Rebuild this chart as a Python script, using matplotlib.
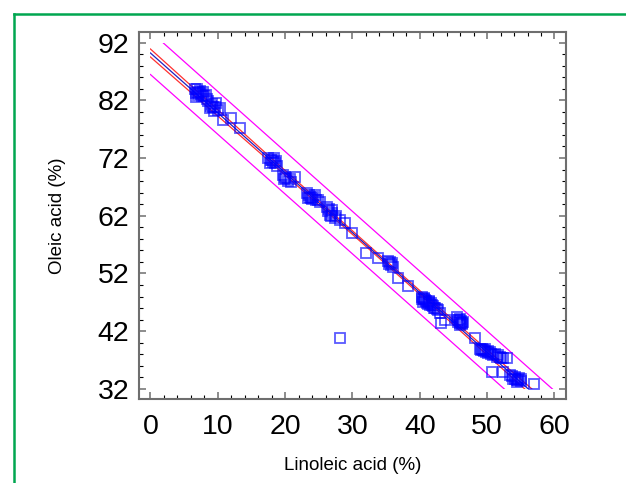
import numpy as np
import matplotlib
matplotlib.use('Agg')
import matplotlib.pyplot as plt
from matplotlib.lines import Line2D
from matplotlib.patches import Rectangle
from matplotlib.ticker import MultipleLocator

plt.rcParams['font.family'] = ['Liberation Sans', 'DejaVu Sans']

# Linoleic (x) / Oleic (y) percentages (clusters hold many overlapping squares)
linoleic = [6.6, 7.0, 7.8, 6.8, 7.6, 8.2, 7.2, 6.9, 7.3, 7.5, 8.0, 6.7, 8.4, 7.1,
            8.6, 9.1, 9.8, 8.8, 9.5, 10.3, 9.3, 9.0, 9.6, 10.0,
            10.8, 12.0, 13.3,
            17.5, 18.0, 18.5, 17.8, 18.3, 18.8, 17.9, 18.2, 18.6,
            19.7, 20.2, 20.95, 21.4, 20.5, 20.0, 20.7, 19.9,
            23.2, 23.7, 24.4, 24.9, 23.4, 24.0, 25.2, 23.5, 23.9, 24.6, 24.2,
            26.2, 26.9, 26.6, 27.4, 26.4, 26.5, 27.0, 26.8, 27.5,
            28.1, 28.9, 30.0,
            28.1,
            32.0, 33.8, 35.6, 35.8, 36.0, 35.3, 35.5, 35.9,
            36.8, 38.3,
            40.3, 40.5, 40.8, 41.3, 41.5, 42.0, 42.2, 42.7, 43.0, 40.6, 41.0, 41.8,
            40.4, 40.9, 41.2, 41.6, 42.1, 42.5, 41.4, 40.7,
            43.2, 43.7,
            45.5, 45.7, 46.2, 46.0, 46.4, 45.8, 46.1, 45.9, 46.3, 45.6, 46.0,
            48.2,
            48.9, 49.4, 49.9, 50.4, 50.9, 51.4, 51.9, 52.4, 52.9, 49.2, 50.1, 51.1,
            49.1, 49.6, 50.2, 50.6, 51.6, 52.1, 49.7,
            50.7, 52.4,
            53.4, 54.1, 54.6, 55.1, 54.4, 53.9, 54.8, 54.2, 54.5, 53.7, 55.0,
            56.9]
oleic = [84.0, 83.5, 83.5, 82.6, 82.8, 83.0, 83.2, 83.9, 83.6, 83.1, 82.7, 83.3, 82.2, 82.9,
         81.8, 81.3, 81.5, 80.6, 80.2, 80.6, 80.9, 81.0, 80.8, 80.3,
         78.6, 78.9, 77.2,
         72.0, 71.7, 71.1, 71.2, 72.0, 70.7, 71.6, 71.3, 71.5,
         69.1, 68.5, 67.9, 68.8, 68.0, 68.8, 68.3, 68.3,
         65.9, 65.3, 65.6, 64.7, 65.0, 64.9, 64.3, 65.6, 65.1, 64.8, 65.3,
         63.6, 63.0, 62.1, 61.6, 62.8, 63.2, 62.5, 62.0, 61.9,
         61.3, 60.7, 59.0,
         40.9,
         55.5, 54.6, 54.0, 53.5, 53.2, 54.1, 53.7, 53.9,
         51.2, 49.9,
         48.0, 47.1, 47.4, 47.1, 46.6, 46.3, 46.0, 45.7, 45.1, 47.8, 46.9, 46.5,
         47.6, 47.2, 46.8, 46.9, 46.1, 45.8, 47.3, 47.5,
         43.5, 43.9,
         44.5, 43.6, 43.4, 43.0, 43.6, 44.0, 43.8, 43.5, 43.2, 43.9, 44.2,
         40.8,
         39.0, 38.7, 38.4, 38.4, 37.9, 37.6, 37.6, 37.3, 37.3, 39.0, 38.6, 38.0,
         38.8, 38.6, 38.2, 38.1, 37.8, 37.4, 38.9,
         35.0, 35.0,
         34.4, 34.1, 33.5, 33.8, 33.2, 33.8, 33.9, 33.7, 33.6, 34.2, 33.4,
         32.9]

x = np.array(linoleic)
y = np.array(oleic)

# simple linear regression with 95% confidence and prediction limits
n = len(x)
slope, intercept = np.polyfit(x, y, 1)
resid = y - (intercept + slope * x)
s = np.sqrt(np.sum(resid ** 2) / (n - 2))
t = 1.98
xbar = x.mean()
sxx = np.sum((x - xbar) ** 2)
xs = np.linspace(0, 60, 300)
fit = intercept + slope * xs
conf = t * s * np.sqrt(1.0 / n + (xs - xbar) ** 2 / sxx)
pred = t * s * np.sqrt(1 + 1.0 / n + (xs - xbar) ** 2 / sxx)

fig = plt.figure(figsize=(6.26, 4.83), dpi=100)
ax = fig.add_axes([0.222, 0.174, 0.682, 0.760])

clip = Rectangle((0, 32), 60, 60, transform=ax.transData)
lines = []
lines += ax.plot(xs, fit + pred, color='#ff00ff', lw=0.9)
lines += ax.plot(xs, fit - pred, color='#ff00ff', lw=0.9)
lines += ax.plot(xs, fit + conf, color='#ff3030', lw=0.9)
lines += ax.plot(xs, fit - conf, color='#ff3030', lw=0.9)
lines += ax.plot(xs, fit, color='#2020c0', lw=0.9)
for ln in lines:
    ln.set_clip_path(clip)

ax.plot(x, y, 's', ms=7.6, mfc='none', mec=(0, 0, 1, 0.65), mew=1.3)

ax.set_xlim(-1.7, 61.7)
ax.set_ylim(30.27, 93.85)
ax.xaxis.set_major_locator(MultipleLocator(10))
ax.xaxis.set_minor_locator(MultipleLocator(2))
ax.set_yticks(np.arange(32, 93, 10))
ax.yaxis.set_minor_locator(MultipleLocator(2))

ax.tick_params(which='both', direction='in', top=True, right=True)
ax.tick_params(which='major', length=5, width=1.1, color='#6e6e6e', labelsize=20.5, pad=7)
ax.tick_params(which='minor', length=3, width=0.8, color='black')
ax.tick_params(axis='x', which='major', pad=11)
for sp in ax.spines.values():
    sp.set_color('#6e6e6e')
    sp.set_linewidth(1.5)

ax.set_xlabel('Linoleic acid (%)', fontsize=13.5)
ax.set_ylabel('Oleic acid (%)', fontsize=13.5)
ax.xaxis.set_label_coords(0.5, -0.158)
ax.yaxis.set_label_coords(-0.17, 0.5)

# green frame at top/left
fig.add_artist(Line2D([14 / 626, 14 / 626], [0, 1 - 14 / 483], color='#00a650', lw=1.8))
fig.add_artist(Line2D([14 / 626, 1], [1 - 14 / 483, 1 - 14 / 483], color='#00a650', lw=1.8))

fig.savefig('out.png', dpi=100)
